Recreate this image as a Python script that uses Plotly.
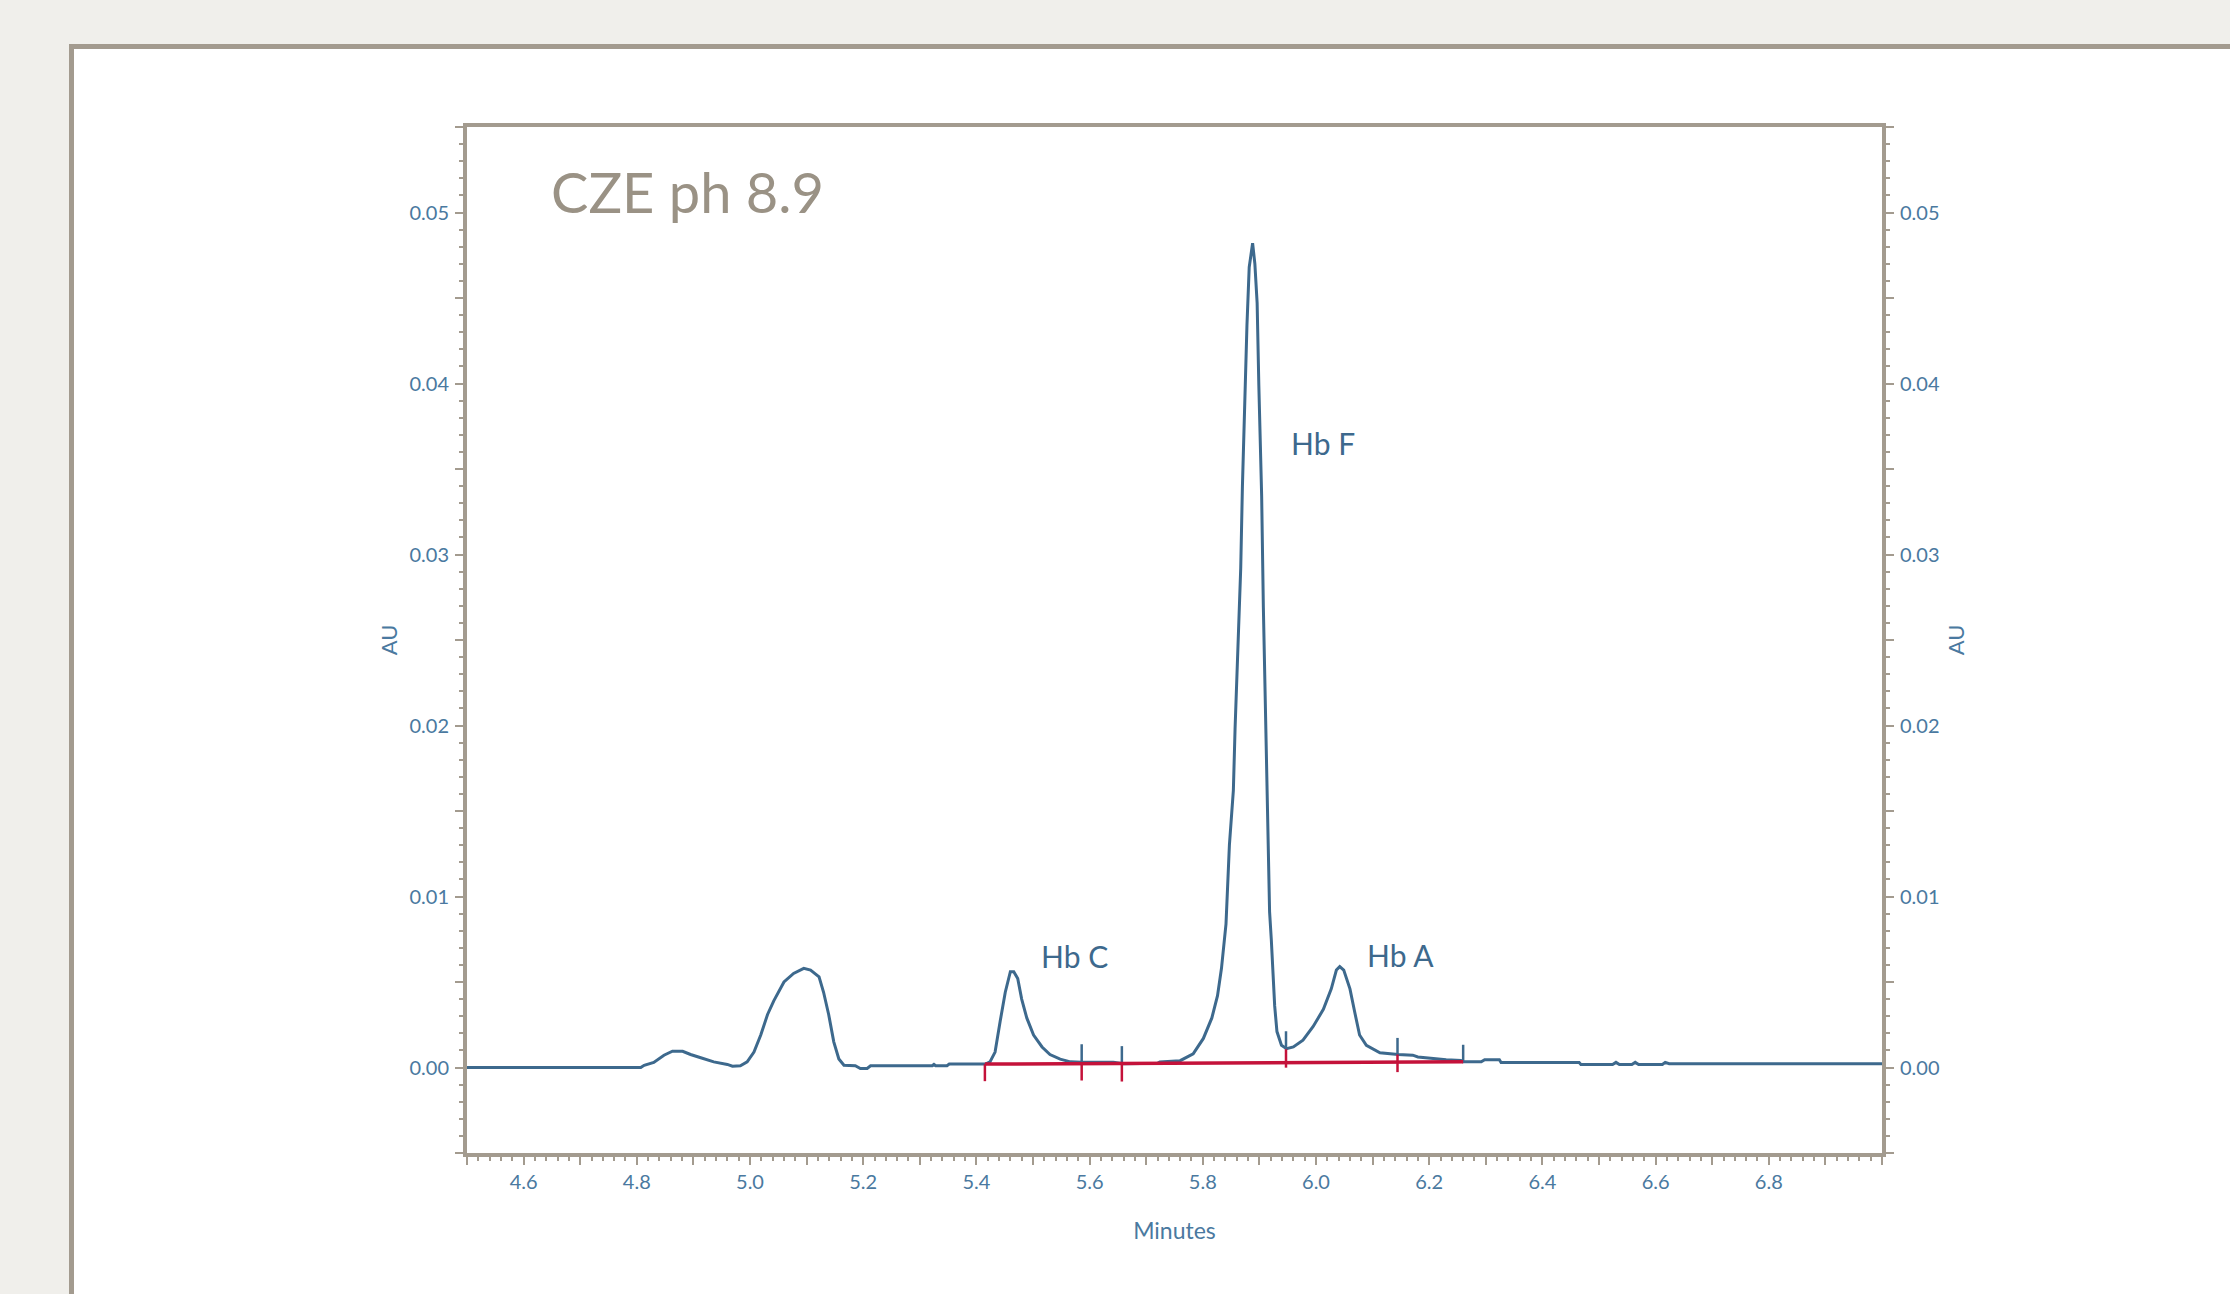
import plotly.graph_objects as go

# ---------------- data ----------------
time_min = [4.50, 4.807, 4.813, 4.830, 4.848, 4.863, 4.881, 4.895, 4.913, 4.936, 4.960, 4.969, 4.983,
            4.995, 5.007, 5.019, 5.031, 5.042, 5.060, 5.077, 5.095, 5.107, 5.122, 5.130, 5.139, 5.148,
            5.157, 5.166, 5.186, 5.195, 5.207, 5.213, 5.322, 5.325, 5.328, 5.348, 5.352, 5.416, 5.424,
            5.433, 5.442, 5.451, 5.460, 5.466, 5.473, 5.480, 5.489, 5.501, 5.516, 5.530, 5.548, 5.566,
            5.586, 5.642, 5.660, 5.720, 5.724, 5.760, 5.783, 5.801, 5.816, 5.826, 5.833, 5.841, 5.847,
            5.854, 5.857, 5.862, 5.867, 5.870, 5.874, 5.878, 5.882, 5.888, 5.892, 5.896, 5.899, 5.904,
            5.907, 5.911, 5.914, 5.918, 5.921, 5.924, 5.927, 5.931, 5.939, 5.948, 5.960, 5.977, 5.995,
            6.013, 6.027, 6.036, 6.042, 6.049, 6.060, 6.068, 6.077, 6.089, 6.113, 6.145, 6.171, 6.180,
            6.201, 6.230, 6.256, 6.259, 6.292, 6.298, 6.324, 6.327, 6.465, 6.468, 6.524, 6.530, 6.536,
            6.558, 6.564, 6.570, 6.612, 6.617, 6.624, 7.000]
absorbance = [0.0000, 0.0000, 0.00013, 0.00030, 0.00072, 0.00095, 0.00095, 0.00076, 0.00057, 0.00033,
              0.00018, 0.00008, 0.00010, 0.00033, 0.00090, 0.0019, 0.0031, 0.0039, 0.0050, 0.0055,
              0.0058, 0.0057, 0.0053, 0.0044, 0.0031, 0.0015, 0.0005, 0.00013, 0.00010, -0.00006,
              -0.00006, 0.00010, 0.00010, 0.00018, 0.00010, 0.00010, 0.00020, 0.00020, 0.00033,
              0.0009, 0.0027, 0.0044, 0.0056, 0.0056, 0.0052, 0.0040, 0.0029, 0.0019, 0.0012, 0.00076,
              0.00049, 0.00033, 0.00030, 0.00030, 0.00022, 0.00025, 0.00032, 0.00040, 0.0008, 0.0017,
              0.0029, 0.0042, 0.0058, 0.0084, 0.0130, 0.0162, 0.0198, 0.0243, 0.0292, 0.0340, 0.0392,
              0.0434, 0.0468, 0.0482, 0.0470, 0.0447, 0.0399, 0.0334, 0.0269, 0.0204, 0.0139, 0.0091,
              0.0075, 0.0056, 0.0036, 0.0021, 0.0013, 0.0011, 0.0012, 0.0016, 0.0024, 0.0034, 0.0046,
              0.0057, 0.0059, 0.0057, 0.0046, 0.0033, 0.0019, 0.0013, 0.00086, 0.00076, 0.00072,
              0.00062, 0.00053, 0.00045, 0.00041, 0.00033, 0.00033, 0.00045, 0.00045, 0.00029, 0.00029,
              0.00018, 0.00018, 0.00030, 0.00018, 0.00018, 0.00030, 0.00018, 0.00018, 0.00030, 0.00022,
              0.00022]

# integration baseline (start / end)
baseline_x = [5.415, 6.260]
baseline_y = [0.00020, 0.00033]

# peak event markers
event_x = [5.415, 5.586, 5.657, 5.947, 6.144, 6.260]
event_blue_top = [None, 0.00136, 0.00125, 0.00212, 0.00173, 0.00133]
event_blue_bottom = [None, 0.00030, 0.00027, 0.00107, 0.00076, 0.00033]
event_red_top = [0.00020, 0.00030, 0.00027, 0.00107, 0.00076, None]
event_red_bottom = [-0.00080, -0.00076, -0.00082, -0.00001, -0.00027, None]

peak_labels = ["Hb C", "Hb F", "Hb A"]
peak_label_x = [5.5736, 6.012, 6.149]
peak_label_y = [0.00654, 0.0365, 0.0066]

x_tickvals = [4.5, 4.6, 4.7, 4.8, 4.9, 5.0, 5.1, 5.2, 5.3, 5.4, 5.5, 5.6, 5.7, 5.8, 5.9, 6.0, 6.1,
              6.2, 6.3, 6.4, 6.5, 6.6, 6.7, 6.8, 6.9, 7.0]
x_ticktext = ["", "4.6", "", "4.8", "", "5.0", "", "5.2", "", "5.4", "", "5.6", "", "5.8", "", "6.0",
              "", "6.2", "", "6.4", "", "6.6", "", "6.8", "", ""]
y_tickvals = [-0.005, 0.0, 0.005, 0.01, 0.015, 0.02, 0.025, 0.03, 0.035, 0.04, 0.045, 0.05, 0.055]
y_ticktext = ["", "0.00", "", "0.01", "", "0.02", "", "0.03", "", "0.04", "", "0.05", ""]

title_text = "CZE ph 8.9"

# ---------------- style ----------------
W, H = 2230, 1294
ML, MR, MT, MB = 467, 348, 127, 141
PW, PH = W - ML - MR, H - MT - MB
AXIS = "#a39b8f"
BLUE = "#3d698d"
LBLUE = "#4a79a0"
RED = "#c4123a"
FONT = "Lato"


def px_x(p):
    return (p - ML) / PW


def px_y(p):
    return (H - MB - p) / PH


fig = go.Figure()

fig.add_trace(go.Scatter(x=time_min, y=absorbance, mode="lines",
                         line=dict(color=BLUE, width=3), hoverinfo="skip", showlegend=False))

# blue event ticks (above signal)
bx, by = [], []
for x, t, b in zip(event_x, event_blue_top, event_blue_bottom):
    if t is None:
        continue
    bx += [x, x, None]
    by += [b, t, None]
fig.add_trace(go.Scatter(x=bx, y=by, mode="lines", line=dict(color=BLUE, width=2.5),
                         hoverinfo="skip", showlegend=False))

# red baseline + red event ticks
fig.add_trace(go.Scatter(x=baseline_x, y=baseline_y, mode="lines", line=dict(color=RED, width=3.5),
                         hoverinfo="skip", showlegend=False))
rx, ry = [], []
for x, t, b in zip(event_x, event_red_top, event_red_bottom):
    if t is None:
        continue
    rx += [x, x, None]
    ry += [t, b, None]
fig.add_trace(go.Scatter(x=rx, y=ry, mode="lines", line=dict(color=RED, width=2.5),
                         hoverinfo="skip", showlegend=False))

# invisible trace for right axis
fig.add_trace(go.Scatter(x=time_min, y=absorbance, yaxis="y2", mode="lines",
                         line=dict(color="rgba(0,0,0,0)", width=0), hoverinfo="skip", showlegend=False))

for t, x, y in zip(peak_labels, peak_label_x, peak_label_y):
    fig.add_annotation(x=x, y=y, xref="x", yref="y", text=t, showarrow=False,
                       font=dict(family=FONT, size=30, color=BLUE), xanchor="center", yanchor="middle")

fig.add_annotation(x=px_x(549), y=px_y(191), xref="paper", yref="paper", text=title_text,
                   showarrow=False, xanchor="left", yanchor="middle",
                   font=dict(family=FONT, size=56, color="#9a9285"))

# white panel with border
fig.add_shape(type="rect", xref="paper", yref="paper", layer="below",
              x0=px_x(71.5), y0=px_y(46.5), x1=px_x(2400), y1=px_y(1400),
              fillcolor="white", line=dict(color=AXIS, width=5))


def yaxis_cfg(side, standoff):
    return dict(side=side, range=[-0.005, 0.055], tickmode="array", tickvals=y_tickvals,
                ticktext=y_ticktext, ticks="outside", ticklen=8, tickwidth=2, tickcolor=AXIS,
                showline=True, linecolor=AXIS, linewidth=4, showgrid=False, zeroline=False,
                tickfont=dict(family=FONT, size=20, color=LBLUE), ticklabelstandoff=2,
                minor=dict(dtick=0.001, tick0=0, ticks="outside", ticklen=4, tickwidth=2,
                           tickcolor=AXIS, showgrid=False),
                title=dict(text="AU", font=dict(family=FONT, size=22, color=LBLUE), standoff=standoff))


yaxis2 = yaxis_cfg("right", 11)
yaxis2["overlaying"] = "y"

fig.update_layout(
    width=W, height=H,
    margin=dict(l=ML, r=MR, t=MT, b=MB, autoexpand=False),
    paper_bgcolor="#f0efeb", plot_bgcolor="white",
    showlegend=False,
    xaxis=dict(range=[4.5, 7.0], tickmode="array", tickvals=x_tickvals, ticktext=x_ticktext,
               ticks="outside", ticklen=8, tickwidth=2, tickcolor=AXIS,
               showline=True, mirror=True, linecolor=AXIS, linewidth=4, showgrid=False, zeroline=False,
               tickfont=dict(family=FONT, size=20, color=LBLUE), ticklabelstandoff=0,
               minor=dict(dtick=0.02, tick0=4.5, ticks="outside", ticklen=4, tickwidth=2,
                          tickcolor=AXIS, showgrid=False),
               title=dict(text="Minutes", font=dict(family=FONT, size=23, color=LBLUE), standoff=32)),
    yaxis=yaxis_cfg("left", 7),
    yaxis2=yaxis2,
)

fig.write_html("out.html")
